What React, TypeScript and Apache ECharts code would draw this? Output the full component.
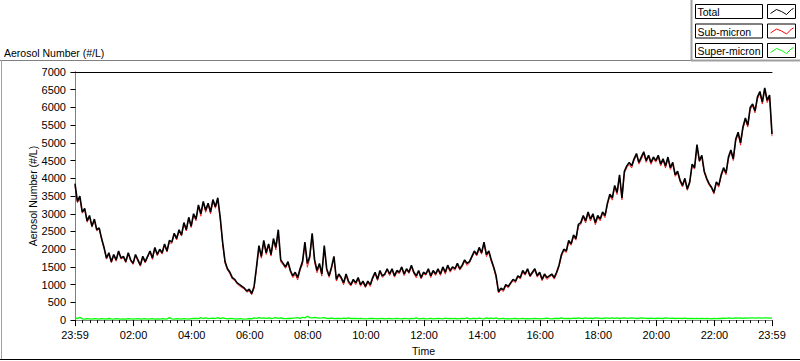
import React, { useEffect, useRef } from "react";
import * as echarts from "echarts";

// Time: minutes relative to midnight; the record starts at 23:59 (-1) and ends at 23:59 (1439)
const startMinute = -1;
const stepMinutes = 5;

const totalCounts = [
  3850, 3350, 3500, 3050, 3150, 2800, 2950, 2650, 2850, 2550,
  2600, 2300, 2050, 1750, 1900, 1650, 1850, 1700, 1950, 1750,
  1800, 1650, 1900, 1700, 1600, 1850, 1700, 1550, 1800, 1650,
  1800, 1950, 1750, 2050, 1850, 2000, 1900, 2150, 1950, 2250,
  2200, 2450, 2300, 2550, 2400, 2750, 2550, 2900, 2650, 3000,
  2850, 3250, 3000, 3350, 3100, 3300, 3050, 3400, 3200, 3450,
  2900, 2200, 1650, 1450, 1350, 1200, 1150, 1050, 1000, 950,
  900, 820, 870, 750, 950, 1500, 2100, 1800, 2250, 1900,
  2150, 1850, 2300, 2050, 2550, 1700, 1600, 1500, 1650, 1400,
  1250, 1350, 1200, 1450, 1650, 2200, 1600, 1800, 2450, 1700,
  1400, 1600, 1300, 2100, 1450, 1250, 1500, 1800, 1150, 1300,
  1200, 1050, 1300, 1100, 1000, 1150, 1050, 1200, 1000, 1100,
  950, 1100, 1000, 1200, 1350, 1150, 1400, 1250, 1300, 1450,
  1300, 1450, 1250, 1400, 1350, 1500, 1300, 1450, 1350, 1550,
  1350, 1250, 1400, 1200, 1350, 1300, 1450, 1250, 1400, 1300,
  1450, 1300, 1500, 1350, 1550, 1400, 1500, 1450, 1600, 1450,
  1550, 1700, 1600, 1650, 1800, 1950, 1850, 2050, 1900, 2200,
  1850, 1950, 1700, 1500, 1250, 800, 900, 850, 1000, 950,
  1050, 1150, 1100, 1250, 1200, 1400, 1300, 1450, 1250, 1350,
  1450, 1250, 1350, 1150, 1300, 1200, 1250, 1300, 1200, 1350,
  1550, 1850, 2000, 1950, 2250, 2150, 2400, 2300, 2700, 2750,
  2950, 2800, 3050, 2850, 3000, 2750, 2950, 2850, 3050, 2950,
  3300, 3550, 3450, 3800, 3600, 4100, 3450, 4200, 4350, 4450,
  4350, 4550, 4700, 4450, 4600, 4750, 4500, 4650, 4450, 4600,
  4500, 4650, 4400, 4550, 4350, 4600, 4300, 4450, 4100, 4200,
  3950, 3800, 4000, 3700, 3900, 4400, 4300, 4950, 4500, 4650,
  4200, 4000, 3850, 3750, 3600, 3900, 3800, 4100, 4300, 4150,
  4600, 4800, 4550, 5100, 5300, 5000, 5450, 5700, 5500, 6000,
  6100, 5900, 6300, 6450, 6150, 6550, 6200, 6350, 5250,
];

const superMicronCounts = [
  70, 40, 80, 35, 30, 40, 35, 30, 40, 35,
  30, 40, 35, 30, 45, 35, 30, 40, 35, 30,
  35, 30, 40, 35, 30, 35, 40, 30, 35, 40,
  30, 35, 40, 30, 35, 30, 40, 35, 30, 70,
  35, 30, 40, 35, 30, 40, 35, 30, 40, 45,
  50, 40, 70, 45, 60, 40, 50, 55, 45, 70,
  40, 60, 50, 35, 45, 40, 35, 30, 40, 35,
  30, 35, 45, 35, 60, 50, 70, 55, 65, 50,
  60, 45, 55, 70, 50, 60, 45, 40, 50, 45,
  55, 60, 70, 50, 80, 60, 110, 70, 60, 75,
  65, 55, 60, 70, 50, 45, 55, 40, 50, 45,
  40, 55, 45, 60, 40, 45, 50, 40, 45, 40,
  35, 40, 50, 45, 40, 35, 40, 45, 35, 40,
  45, 35, 40, 50, 40, 35, 45, 40, 35, 45,
  40, 60, 35, 40, 45, 35, 40, 50, 35, 40,
  45, 40, 35, 55, 40, 50, 40, 45, 35, 40,
  45, 40, 60, 35, 40, 45, 40, 55, 40, 35,
  60, 45, 55, 40, 60, 35, 40, 45, 35, 40,
  35, 40, 45, 35, 40, 50, 35, 40, 35, 40,
  45, 40, 35, 40, 45, 55, 40, 35, 45, 50,
  45, 60, 40, 45, 50, 40, 55, 45, 60, 50,
  45, 60, 50, 55, 45, 60, 55, 50, 45, 60,
  55, 50, 65, 50, 60, 45, 55, 60, 50, 55,
  60, 55, 45, 50, 60, 55, 50, 45, 55, 50,
  45, 55, 50, 45, 60, 55, 50, 55, 45, 50,
  50, 45, 55, 40, 45, 50, 40, 45, 40, 45,
  40, 45, 40, 35, 45, 40, 50, 45, 55, 50,
  60, 55, 50, 60, 55, 65, 50, 60, 55, 65,
  60, 55, 65, 60, 55, 60, 65, 55, 60,
];

const xMajorTicks = [-1, 120, 240, 360, 480, 600, 720, 840, 960, 1080, 1200, 1320, 1439];
const xMajorLabels = ["23:59", "02:00", "04:00", "06:00", "08:00", "10:00", "12:00", "14:00", "16:00", "18:00", "20:00", "22:00", "23:59"];
const legendNames = ["Total", "Sub-micron", "Super-micron"];
const seriesColors = ["#000000", "#ff0000", "#00ff00"];

const FONT = "Liberation Sans";

export default function App() {
  const ref = useRef<HTMLDivElement>(null);

  useEffect(() => {
    if (!ref.current) return;
    const chart = echarts.init(ref.current, undefined, { renderer: "svg" });

    const xOf = (i: number) => startMinute + i * stepMinutes;
    const totalData = totalCounts.map((v, i) => [xOf(i), v]);
    const superData = superMicronCounts.map((v, i) => [xOf(i), v]);
    const subData = totalCounts.map((v, i) => [xOf(i), v - superMicronCounts[i]]);

    const minorTicks: number[] = [];
    for (let m = 15; m < 1439; m += 15) {
      if (m % 120 !== 0) minorTicks.push(m);
    }

    const labelFor = (v: number) => {
      const idx = xMajorTicks.indexOf(v);
      return idx >= 0 ? xMajorLabels[idx] : "";
    };

    const legendGraphics: any[] = [];
    legendNames.forEach((name, r) => {
      const top = 4 + r * 19.5;
      legendGraphics.push({
        type: "rect",
        shape: { x: 695.5, y: top + 0.5, width: 67, height: 14 },
        style: { fill: "#ffffff", stroke: "#000000", lineWidth: 1 },
      });
      legendGraphics.push({
        type: "text",
        x: 697.5,
        y: top + 8,
        style: { text: name, fill: "#000000", font: `10.5px "${FONT}"`, verticalAlign: "middle", align: "left" },
      });
      legendGraphics.push({
        type: "rect",
        shape: { x: 767.5, y: top + 0.5, width: 28, height: 14 },
        style: { fill: "#ffffff", stroke: "#000000", lineWidth: 1 },
      });
      const bx = 767.5;
      const by = top + 0.5;
      legendGraphics.push({
        type: "polyline",
        shape: {
          points: [
            [bx + 3, by + 9],
            [bx + 9, by + 5],
            [bx + 14, by + 7],
            [bx + 19, by + 10],
            [bx + 24, by + 5],
            [bx + 26, by + 4],
          ],
        },
        style: { stroke: seriesColors[r], fill: null, lineWidth: 1 },
      });
    });

    chart.setOption({
      animation: false,
      backgroundColor: "#ffffff",
      textStyle: { fontFamily: FONT },
      grid: { left: 75, top: 72, width: 697, height: 250, show: false },
      xAxis: [
        {
          type: "value",
          position: "bottom",
          min: -1,
          max: 1439,
          axisLine: { show: true, lineStyle: { color: "#808080", width: 1 } },
          axisTick: { show: true, customValues: xMajorTicks, length: 6, lineStyle: { color: "#000000" } },
          axisLabel: {
            customValues: xMajorTicks,
            formatter: (v: number) => labelFor(v),
            color: "#000000",
            fontSize: 11,
            fontFamily: FONT,
            margin: 9,
          },
          splitLine: { show: false },
          name: "Time",
          nameLocation: "middle",
          nameGap: 24,
          nameTextStyle: { color: "#000000", fontSize: 10.5, fontFamily: FONT },
        },
        {
          type: "value",
          position: "bottom",
          min: -1,
          max: 1439,
          axisLine: { show: false },
          axisTick: { show: true, customValues: minorTicks, length: 3, lineStyle: { color: "#000000" } },
          axisLabel: { show: false },
          splitLine: { show: false },
        },
        {
          type: "value",
          position: "top",
          min: -1,
          max: 1439,
          axisLine: { show: true, lineStyle: { color: "#000000", width: 1 } },
          axisTick: { show: false },
          axisLabel: { show: false },
          splitLine: { show: false },
        },
      ],
      yAxis: [
        {
          type: "value",
          position: "left",
          min: 0,
          max: 7000,
          interval: 500,
          axisLine: { show: true, lineStyle: { color: "#000000", width: 1 } },
          axisTick: { show: true, length: 5, lineStyle: { color: "#000000" } },
          axisLabel: {
            color: "#000000",
            fontSize: 11,
            fontFamily: FONT,
            margin: 9,
            formatter: (v: number) => String(v),
          },
          splitLine: { show: false },
          name: "Aerosol Number (#/L)",
          nameLocation: "middle",
          nameRotate: 90,
          nameGap: 37,
          nameMoveOverlap: false,
          nameTextStyle: { color: "#000000", fontSize: 10.5, fontFamily: FONT },
        },
        {
          type: "value",
          position: "right",
          min: 0,
          max: 7000,
          axisLine: { show: true, lineStyle: { color: "#808080", width: 1 } },
          axisTick: { show: false },
          axisLabel: { show: false },
          splitLine: { show: false },
        },
      ],
      series: [
        {
          name: "Super-micron",
          type: "line",
          xAxisIndex: 0,
          yAxisIndex: 0,
          data: superData,
          showSymbol: false,
          symbol: "none",
          lineStyle: { color: seriesColors[2], width: 1.3 },
          z: 2,
        },
        {
          name: "Sub-micron",
          type: "line",
          xAxisIndex: 0,
          yAxisIndex: 0,
          data: subData,
          showSymbol: false,
          symbol: "none",
          lineStyle: { color: seriesColors[1], width: 0.8 },
          z: 3,
        },
        {
          name: "Total",
          type: "line",
          xAxisIndex: 0,
          yAxisIndex: 0,
          data: totalData,
          showSymbol: false,
          symbol: "none",
          lineStyle: { color: seriesColors[0], width: 1.6 },
          z: 4,
        },
      ],
      graphic: [
        {
          type: "text",
          x: 4,
          y: 53,
          style: { text: "Aerosol Number (#/L)", fill: "#000000", font: `10.5px "${FONT}"`, verticalAlign: "middle", align: "left" },
        },
        { type: "line", shape: { x1: 0, y1: 60.5, x2: 692, y2: 60.5 }, style: { stroke: "#808080", lineWidth: 1 } },
        { type: "line", shape: { x1: 1.5, y1: 60, x2: 1.5, y2: 360 }, style: { stroke: "#a0a0a0", lineWidth: 1 } },
        { type: "line", shape: { x1: 0, y1: 359.5, x2: 800, y2: 359.5 }, style: { stroke: "#000000", lineWidth: 1 } },
        { type: "line", shape: { x1: 691.5, y1: 0, x2: 691.5, y2: 61 }, style: { stroke: "#a0a0a0", lineWidth: 2 } },
        { type: "line", shape: { x1: 691, y1: 60.5, x2: 800, y2: 60.5 }, style: { stroke: "#a0a0a0", lineWidth: 2 } },
        ...legendGraphics,
      ],
    });

    return () => chart.dispose();
  }, []);

  return (
    <div
      ref={ref}
      style={{ position: "fixed", left: 0, top: 0, width: 800, height: 361 }}
    />
  );
}
